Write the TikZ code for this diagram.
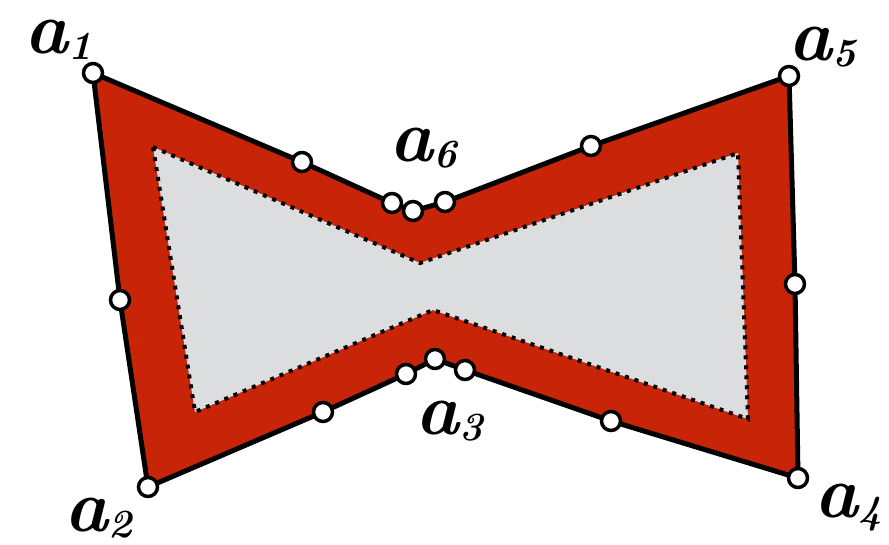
\documentclass[tikz,border=0pt]{standalone}
\usepackage{fontspec}
\definecolor{bowred}{RGB}{200,37,8}
\definecolor{bowgray}{RGB}{220,221,223}
\newcommand{\alab}[1]{{\fontsize{74}{74}\selectfont\bfseries\itshape a}\raisebox{-6pt}{\fontsize{40}{40}\selectfont\bfseries\itshape #1}}
\tikzset{
  pt/.style={circle,draw=black,fill=white,line width=3.5pt,minimum size=19pt,inner sep=0pt},
  outerpoly/.style={fill=bowred,draw=black,line width=5pt,line join=miter},
  innerpoly/.style={fill=bowgray,draw=black,line width=4pt,dash pattern=on 4pt off 6pt},
  lab/.style={inner sep=0pt}
}
\begin{document}
\begin{tikzpicture}[x=1pt,y=-1pt]
\useasboundingbox (0,0) rectangle (889,544);
% outer vertices
\coordinate (A1) at (93,73);
\coordinate (P1) at (302,162);
\coordinate (T1) at (392,203);
\coordinate (A6) at (413,211);
\coordinate (T2) at (445,202);
\coordinate (P2) at (591,146);
\coordinate (A5) at (789,76);
\coordinate (P3) at (795,284);
\coordinate (A4) at (798,478);
\coordinate (P4) at (611,421);
\coordinate (B2) at (465,370);
\coordinate (A3) at (435,359);
\coordinate (B1) at (406,374);
\coordinate (P5) at (323,412);
\coordinate (A2) at (148,487);
\coordinate (P6) at (120,300);
% inner vertices
\coordinate (I1) at (153,147);
\coordinate (I2) at (420,263);
\coordinate (I3) at (738,153);
\coordinate (I4) at (748,419);
\coordinate (I5) at (433,310);
\coordinate (I6) at (195,412);
\draw[outerpoly] (A1) -- (P1) -- (T1) -- (A6) -- (T2) -- (P2) -- (A5) -- (P3) -- (A4) -- (P4) -- (B2) -- (A3) -- (B1) -- (P5) -- (A2) -- (P6) -- cycle;
\draw[innerpoly] (I1) -- (I2) -- (I3) -- (I4) -- (I5) -- (I6) -- cycle;
\foreach \p in {A1,P1,T1,A6,T2,P2,A5,P3,A4,P4,B2,A3,B1,P5,A2,P6}
  \node[pt] (n\p) at (\p) {};
\node[lab] (L1) at (58,40) {\alab{1}};
\node[lab] (L2) at (98,518) {\alab{2}};
\node[lab] (L3) at (449,421) {\alab{3}};
\node[lab] (L4) at (848,508) {\alab{4}};
\node[lab] (L5) at (822,47) {\alab{5}};
\node[lab] (L6) at (423,148) {\alab{6}};
\end{tikzpicture}
\end{document}
